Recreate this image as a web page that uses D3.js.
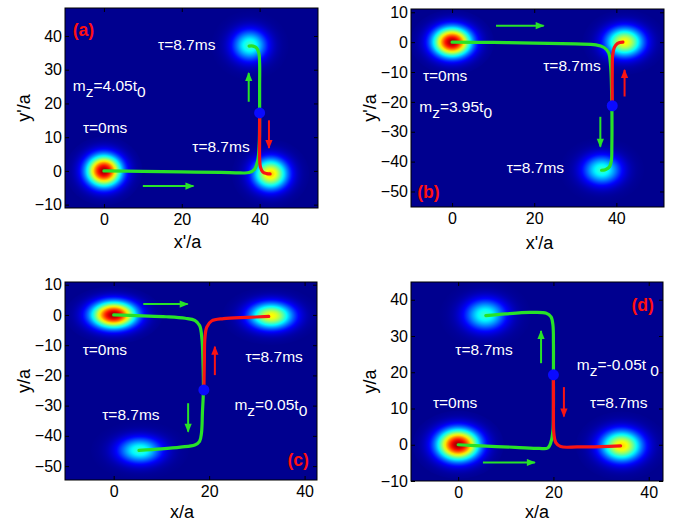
<!DOCTYPE html>
<html>
<head>
<meta charset="utf-8">
<script src="https://cdn.jsdelivr.net/npm/d3@7"></script>
<style>
  body { margin: 0; background: #fff; }
  text { font-family: "Liberation Sans", Arial, sans-serif; }
</style>
</head>
<body>
<div id="chart"></div>
<script>
// ---- data (data units) ----
// blobs: [x, y, peak value on the jet scale]
var blobsA = [[0, 0, 0.97], [37.5, 37.2, 0.43], [42.8, -0.9, 0.67]];
var blobsB = [[0, 0, 0.97], [42, 0, 0.63], [36.5, -42.8, 0.42]];
var blobsC = [[0, 0, 0.97], [33, -0.3, 0.63], [5.5, -44.8, 0.42]];
var blobsD = [[0, 0, 0.97], [34.3, -0.3, 0.66], [5.7, 35.8, 0.42]];

// trajectories
var greenA = [[0,0],[10,-0.15],[20,-0.3],[30,-0.45],[35,-0.6],[37.3,-0.5],[38.7,0.5],[39.5,3],[39.9,8],[40,17],[40,25],[40,32],[39.8,35],[39.2,36.5],[38.3,37],[37.3,37]];
var redA = [[40,17],[40,10],[40,4],[40.2,1.2],[40.8,-0.3],[41.8,-0.8],[42.7,-0.9]];
var greenB = [[0,0],[10,-0.1],[20,-0.3],[30,-0.6],[35,-0.9],[37,-1.8],[38.1,-3.5],[38.6,-8],[38.9,-21.3],[38.9,-35],[38.8,-39.5],[38.3,-41.8],[37.3,-42.7],[36.4,-42.9]];
var redB = [[39,-21.3],[39,-10],[39.1,-4.5],[39.5,-1.8],[40.3,-0.4],[41.6,0]];
var greenC = [[0,0],[6,-0.3],[11,-0.6],[15,-1.1],[17,-1.8],[18,-3.5],[18.5,-8],[18.7,-15],[18.8,-24.8],[18.6,-32],[18.4,-39],[18,-41.8],[17,-43],[14,-43.7],[10,-44.3],[5.3,-44.8]];
var redC = [[18.9,-24.8],[19,-15],[19.1,-8],[19.5,-4],[20.5,-2],[23,-1.2],[28,-0.8],[32.5,-0.5]];
var greenD = [[0,0],[6,-0.4],[12,-0.7],[17,-1],[18.8,-0.9],[19.5,0.8],[19.9,4],[20,10],[20,19.3],[20,28],[19.9,33],[19.5,35.3],[18.5,36.3],[15,36.5],[10,36.1],[5.8,35.6]];
var redD = [[20,19.3],[20,10],[20.1,3],[20.5,0.6],[21.5,-0.5],[25,-0.6],[30,-0.5],[34.1,-0.3]];

// crossing points
var dotA = [40, 17.2];
var dotB = [39, -21.3];
var dotC = [18.9, -24.8];
var dotD = [20, 19.3];

// arrows: [x1, y1, x2, y2, colour key]
var arrowsA = [[10, -4.5, 23, -4.5, "g"], [37.2, 20.5, 37.2, 29, "g"], [42.4, 15, 42.4, 6.8, "r"]];
var arrowsB = [[10.7, 5.5, 22.3, 5.5, "g"], [36.1, -25, 36.1, -35, "g"], [42, -18.2, 42, -9.3, "r"]];
var arrowsC = [[6.2, 3.6, 15.5, 3.6, "g"], [15.6, -29.2, 15.6, -38.6, "g"], [21.2, -19.9, 21.2, -10.5, "r"]];
var arrowsD = [[5.2, -4.9, 16.1, -4.9, "g"], [17.4, 22.5, 17.4, 31.4, "g"], [22.2, 15.9, 22.2, 7.8, "r"]];

// notes: [text, x, y]
var notesA = [["τ=8.7ms", 13.9, 37.6], ["τ=0ms", -5.4, 12.7], ["τ=8.7ms", 22.7, 7.3]];
var notesB = [["τ=0ms", -7.1, -11.3], ["τ=8.7ms", 22.2, -7.8], ["τ=8.7ms", 13.3, -42]];
var notesC = [["τ=0ms", -6.5, -11.4], ["τ=8.7ms", 27.6, -13.8], ["τ=8.7ms", -2.4, -32.8]];
var notesD = [["τ=8.7ms", -0.6, 26.2], ["τ=0ms", -5.3, 11.7], ["τ=8.7ms", 27.7, 11.7]];

// m_z labels: [value, x, y]
var mzA = ["4.05", -8, 25.2];
var mzB = ["3.95", -8, -21.6];
var mzC = ["0.05", 25.3, -29.8];
var mzD = ["-0.05", 24.9, 22.1];

// panel tags: [text, x, y]
var tagA = ["(a)", -8, 41.9];
var tagB = ["(b)", -8.5, -50.3];
var tagC = ["(c)", 36.4, -47.8];
var tagD = ["(d)", 36.4, 38.6];

var ticksX = [0, 20, 40];
var ticksYA = [-10, 0, 10, 20, 30, 40];
var ticksYB = [-50, -40, -30, -20, -10, 0, 10];

// ---- styles / layout ----
var jet = d3.scaleLinear()
  .domain([0, 0.125, 0.375, 0.625, 0.875, 1])
  .range(["#00008f", "#0000ff", "#00ffff", "#ffff00", "#ff0000", "#800000"])
  .clamp(true);
var green = "#28e228", red = "#fa1414";

var panels = [
  {id: "a", box: [65, 8, 318, 208], xd: [-10, 55], yd: [-11, 48.3], yt: ticksYA, sig: [3.1, 3.2],
   xlab: "x'/a", ylab: "y'/a", blobs: blobsA, green: greenA, red: redA, dot: dotA, arrows: arrowsA, notes: notesA, mz: mzA, tag: tagA, gap: false, xl: [-4, 34]},
  {id: "b", box: [411, 9, 664, 207], xd: [-10, 51.6], yd: [-55.2, 11.1], yt: ticksYB, sig: [3.2, 3.4],
   xlab: "x'/a", ylab: "y'/a", blobs: blobsB, green: greenB, red: redB, dot: dotB, arrows: arrowsB, notes: notesB, mz: mzB, tag: tagB, gap: false, xl: [2, 36]},
  {id: "c", box: [65, 282, 317, 480], xd: [-10.2, 42.6], yd: [-54.6, 10.9], yt: ticksYB, sig: [3.2, 3.0],
   xlab: "x/a", ylab: "y/a", blobs: blobsC, green: greenC, red: redC, dot: dotC, arrows: arrowsC, notes: notesC, mz: mzC, tag: tagC, gap: false, xl: [-9, 32]},
  {id: "d", box: [411, 282, 663, 481], xd: [-9.9, 43], yd: [-10, 44.9], yt: ticksYA, sig: [3.0, 2.95],
   xlab: "x/a", ylab: "y/a", blobs: blobsD, green: greenD, red: redD, dot: dotD, arrows: arrowsD, notes: notesD, mz: mzD, tag: tagD, gap: true, xl: [0, 31]}
];

var svg = d3.select("#chart").append("svg")
  .attr("width", 675).attr("height", 523);
var defs = svg.append("defs");

// arrow heads
[["g", green], ["r", red]].forEach(function (c) {
  defs.append("marker")
    .attr("id", "head-" + c[0])
    .attr("viewBox", "-9 -4 11 8")
    .attr("refX", 0).attr("refY", 0)
    .attr("markerUnits", "userSpaceOnUse")
    .attr("markerWidth", 11).attr("markerHeight", 8)
    .attr("orient", "auto")
    .append("path")
      .attr("d", "M-8,-3.6L1,0L-8,3.6Z")
      .attr("fill", c[1]);
});

panels.forEach(drawPanel);

function drawPanel(p) {
  var b = p.box;
  var x = d3.scaleLinear().domain(p.xd).range([b[0], b[2]]);
  var y = d3.scaleLinear().domain(p.yd).range([b[3], b[1]]);

  defs.append("clipPath").attr("id", "clip-" + p.id)
    .append("rect")
      .attr("x", b[0]).attr("y", b[1])
      .attr("width", b[2] - b[0]).attr("height", b[3] - b[1]);

  var plot = svg.append("g").attr("clip-path", "url(#clip-" + p.id + ")");

  plot.append("rect")
    .attr("x", b[0]).attr("y", b[1])
    .attr("width", b[2] - b[0]).attr("height", b[3] - b[1])
    .attr("fill", jet(0));

  // gaussian spots as radial gradients
  var R = 3.2; // ellipse radius in sigmas
  p.blobs.forEach(function (d, i) {
    var gid = "blob-" + p.id + i;
    var grad = defs.append("radialGradient").attr("id", gid);
    d3.range(0, 1.0001, 0.04).forEach(function (t) {
      var r = t * R;
      grad.append("stop")
        .attr("offset", t)
        .attr("stop-color", jet(d[2] * Math.exp(-r * r / 2)));
    });
    plot.append("ellipse")
      .attr("cx", x(d[0])).attr("cy", y(d[1]))
      .attr("rx", x(R * p.sig[0]) - x(0))
      .attr("ry", y(0) - y(R * p.sig[1]))
      .attr("fill", "url(#" + gid + ")");
  });

  var line = d3.line()
    .x(function (d) { return x(d[0]); })
    .y(function (d) { return y(d[1]); })
    .curve(d3.curveCatmullRom.alpha(0.5));

  plot.append("path").datum(p.green)
    .attr("d", line).attr("fill", "none")
    .attr("stroke", green).attr("stroke-width", 3.2).attr("stroke-linecap", "round");
  plot.append("path").datum(p.red)
    .attr("d", line).attr("fill", "none")
    .attr("stroke", red).attr("stroke-width", 3.2).attr("stroke-linecap", "round");

  plot.append("circle")
    .attr("cx", x(p.dot[0])).attr("cy", y(p.dot[1]))
    .attr("r", 5.5).attr("fill", "#0a0aff");

  plot.selectAll("line.arrow").data(p.arrows).enter().append("line")
    .attr("class", "arrow")
    .attr("x1", function (d) { return x(d[0]); })
    .attr("y1", function (d) { return y(d[1]); })
    .attr("x2", function (d) { return x(d[2]); })
    .attr("y2", function (d) { return y(d[3]); })
    .attr("stroke", function (d) { return d[4] == "g" ? green : red; })
    .attr("stroke-width", 2)
    .attr("marker-end", function (d) { return "url(#head-" + d[4] + ")"; });

  // texts inside
  plot.selectAll("text.note").data(p.notes).enter().append("text")
    .attr("class", "note")
    .attr("x", function (d) { return x(d[1]); })
    .attr("y", function (d) { return y(d[2]); })
    .attr("dy", "0.35em")
    .attr("fill", "#fff").attr("font-size", 15.5)
    .text(function (d) { return d[0]; });

  var mz = plot.append("text")
    .attr("x", x(p.mz[1])).attr("y", y(p.mz[2])).attr("dy", "0.35em")
    .attr("fill", "#fff").attr("font-size", 15.5);
  mz.append("tspan").text("m");
  mz.append("tspan").attr("dy", 6).text("z");
  mz.append("tspan").attr("dy", -6).text("=" + p.mz[0] + "t");
  mz.append("tspan").attr("dy", 6).attr("dx", p.gap ? 4 : 0).text("0");

  plot.append("text")
    .attr("x", x(p.tag[1])).attr("y", y(p.tag[2])).attr("dy", "0.35em")
    .attr("fill", "#ff1010").attr("font-size", 17.5).attr("font-weight", "bold")
    .text(p.tag[0]);

  // axes: ticks inward on all four sides
  var ax = svg.append("g");
  var axes = [
    ax.append("g").attr("transform", "translate(0," + b[3] + ")")
      .call(d3.axisBottom(x).tickValues(ticksX).tickSizeInner(-4).tickSizeOuter(0).tickPadding(6)),
    ax.append("g").attr("transform", "translate(0," + b[1] + ")")
      .call(d3.axisTop(x).tickValues(ticksX).tickSizeInner(-4).tickSizeOuter(0).tickFormat("")),
    ax.append("g").attr("transform", "translate(" + b[0] + ",0)")
      .call(d3.axisLeft(y).tickValues(p.yt).tickSizeInner(-4).tickSizeOuter(0).tickPadding(3)),
    ax.append("g").attr("transform", "translate(" + b[2] + ",0)")
      .call(d3.axisRight(y).tickValues(p.yt).tickSizeInner(-4).tickSizeOuter(0).tickFormat(""))
  ];
  axes.forEach(function (a) {
    a.attr("font-size", 16).attr("font-family", null);
  });
  ax.selectAll(".domain").remove();
  ax.selectAll("text").attr("fill", "#000");
  ax.selectAll(".tick line").attr("stroke", "#000");

  svg.append("rect")
    .attr("x", b[0]).attr("y", b[1])
    .attr("width", b[2] - b[0]).attr("height", b[3] - b[1])
    .attr("fill", "none").attr("stroke", "#000").attr("stroke-width", 1);

  svg.append("text")
    .attr("x", (b[0] + b[2]) / 2 + p.xl[0]).attr("y", b[3] + p.xl[1]).attr("dy", "0.35em")
    .attr("text-anchor", "middle").attr("font-size", 18)
    .text(p.xlab);
  svg.append("text")
    .attr("transform", "translate(" + (b[0] - 41) + "," + ((b[1] + b[3]) / 2) + ") rotate(-90)")
    .attr("dy", "0.35em")
    .attr("text-anchor", "middle").attr("font-size", 18)
    .text(p.ylab);
}
</script>
</body>
</html>
